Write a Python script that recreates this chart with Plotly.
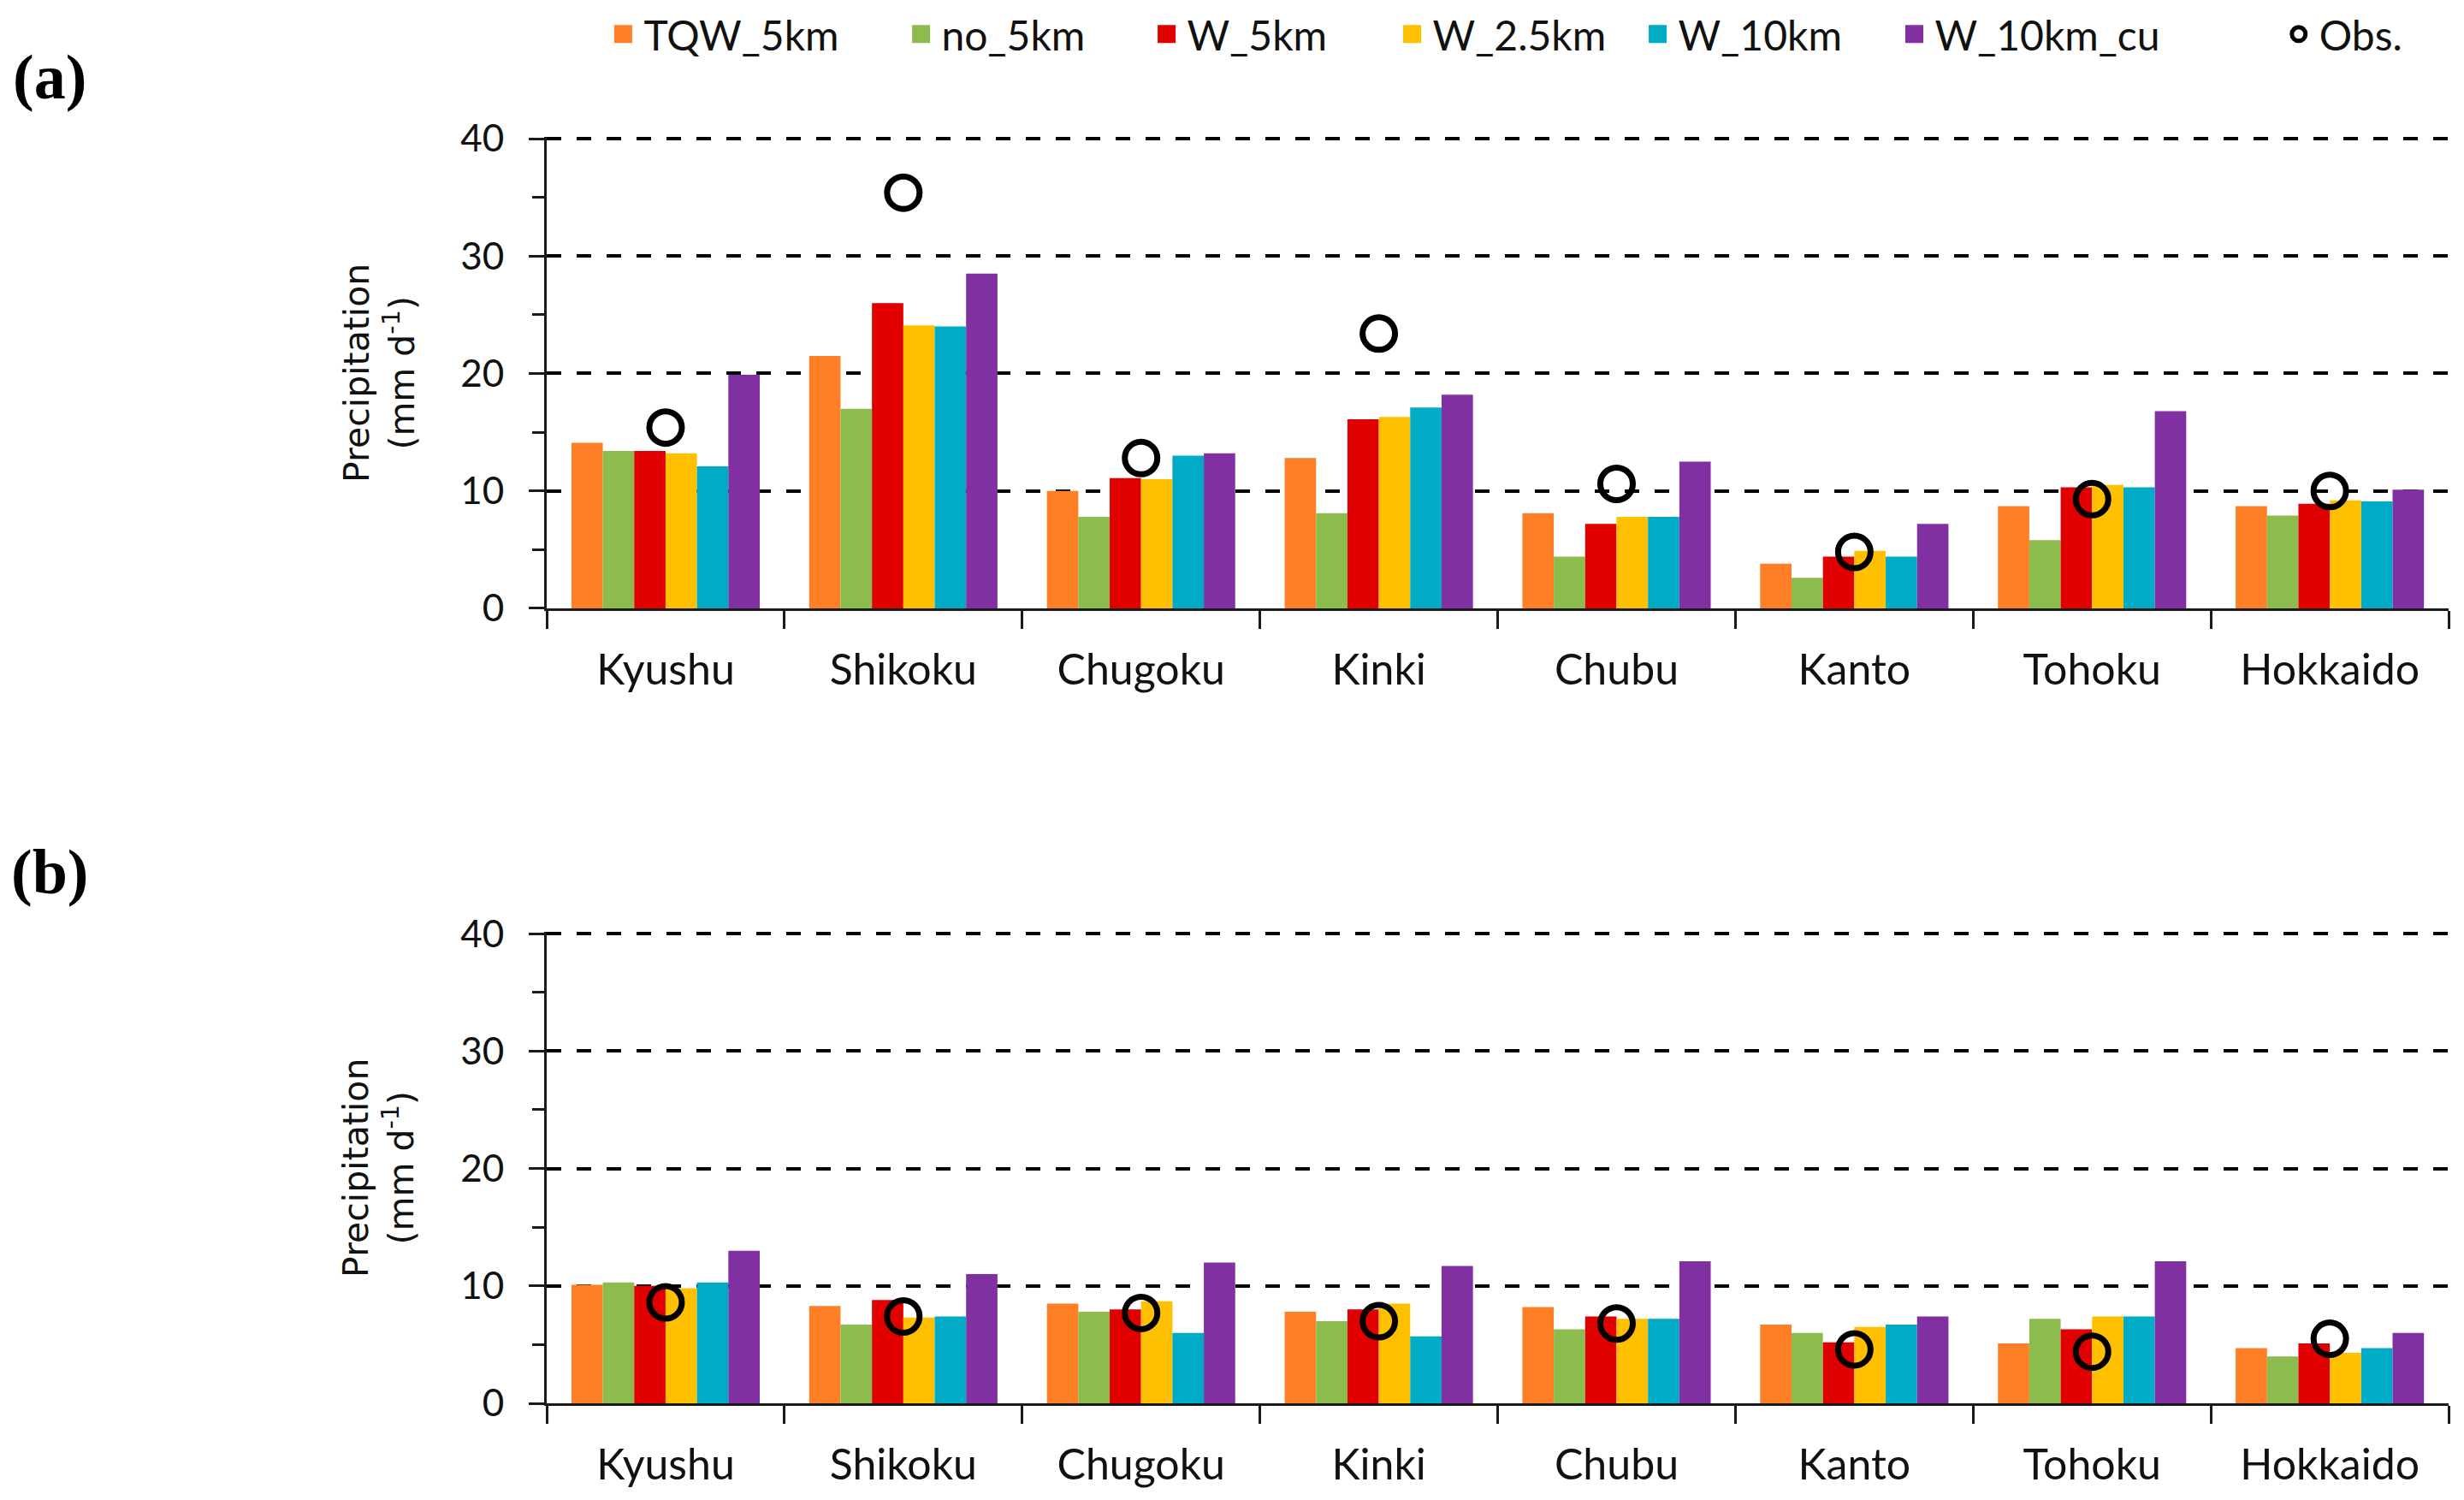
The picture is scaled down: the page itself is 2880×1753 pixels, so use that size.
import plotly.graph_objs as go

# Regions (categories)
regions = ['Kyushu', 'Shikoku', 'Chugoku', 'Kinki', 'Chubu', 'Kanto', 'Tohoku', 'Hokkaido']

# Experiment names and colours
runs = ['TQW_5km', 'no_5km', 'W_5km', 'W_2.5km', 'W_10km', 'W_10km_cu']
colors = ['#FF7F27', '#8CBB4E', '#E00000', '#FFC000', '#00ACC5', '#8030A0']

# Panel (a) precipitation (mm/d)
a_tqw_5km = [14.1, 21.5, 10.0, 12.8, 8.1, 3.8, 8.7, 8.7]
a_no_5km = [13.4, 17.0, 7.8, 8.1, 4.4, 2.6, 5.8, 7.9]
a_w_5km = [13.4, 26.0, 11.1, 16.1, 7.2, 4.4, 10.3, 8.9]
a_w_2_5km = [13.2, 24.1, 11.0, 16.3, 7.8, 4.9, 10.5, 9.2]
a_w_10km = [12.1, 24.0, 13.0, 17.1, 7.8, 4.4, 10.3, 9.1]
a_w_10km_cu = [19.9, 28.5, 13.2, 18.2, 12.5, 7.2, 16.8, 10.1]
a_obs = [15.4, 35.4, 12.8, 23.4, 10.6, 4.8, 9.3, 10.0]

# Panel (b) precipitation (mm/d)
b_tqw_5km = [10.1, 8.3, 8.5, 7.8, 8.2, 6.7, 5.1, 4.7]
b_no_5km = [10.3, 6.7, 7.8, 7.0, 6.3, 6.0, 7.2, 4.0]
b_w_5km = [10.0, 8.8, 8.0, 8.0, 7.4, 5.2, 6.3, 5.1]
b_w_2_5km = [9.8, 7.3, 8.7, 8.5, 7.2, 6.5, 7.4, 4.3]
b_w_10km = [10.3, 7.4, 6.0, 5.7, 7.2, 6.7, 7.4, 4.7]
b_w_10km_cu = [13.0, 11.0, 12.0, 11.7, 12.1, 7.4, 12.1, 6.0]
b_obs = [8.6, 7.4, 7.7, 7.0, 6.8, 4.6, 4.4, 5.5]

panel_a = [a_tqw_5km, a_no_5km, a_w_5km, a_w_2_5km, a_w_10km, a_w_10km_cu]
panel_b = [b_tqw_5km, b_no_5km, b_w_5km, b_w_2_5km, b_w_10km, b_w_10km_cu]

# which legend box each run goes in (spacing in the original is uneven)
legend_of = ['legend', 'legend3', 'legend3', 'legend3', 'legend3', 'legend4']

data = []

# Bars for both panels
for name, col, va, vb in zip(runs, colors, panel_a, panel_b):
    data.append(go.Bar(x=regions, y=va, name=name, marker_color=col, marker_line_width=0,
                       showlegend=False, xaxis='x', yaxis='y'))
    data.append(go.Bar(x=regions, y=vb, name=name, marker_color=col, marker_line_width=0,
                       showlegend=False, xaxis='x2', yaxis='y2'))

# Legend-only entries so the squares come out bigger than the default bar swatch
for name, col, leg in zip(runs, colors, legend_of):
    data.append(go.Scatter(x=[None], y=[None], mode='markers', name=name,
                           marker=dict(symbol='square', size=16, color=col,
                                       line=dict(width=5, color=col)),
                           xaxis='x', yaxis='y', legend=leg))

# Observations (own legend box so it sits at the far right like the original)
obs_marker = dict(symbol='circle-open', size=38, color='black', line=dict(width=7, color='black'))
data.append(go.Scatter(x=regions, y=a_obs, mode='markers', name='Obs.', marker=obs_marker,
                       xaxis='x', yaxis='y', legend='legend2'))
data.append(go.Scatter(x=regions, y=b_obs, mode='markers', name='Obs.', marker=obs_marker,
                       showlegend=False, xaxis='x2', yaxis='y2'))

# Shared axis styles
tick_font = dict(family='Lato', size=44, color='#111')
xstyle = dict(type='category', range=[-0.5, 7.5], domain=[0.2191, 0.9910], automargin=False,
              showline=True, linecolor='#1a1a1a', linewidth=3,
              ticks='outside', tickson='boundaries', ticklen=21, tickwidth=3, tickcolor='#1a1a1a',
              showgrid=False, ticklabelstandoff=26,
              tickfont=dict(family='Lato', size=50, color='#111'))
# top of range nudged a hair past 40 so the 40 gridline is not clipped away
ystyle = dict(range=[0, 40.15], dtick=10, tick0=0, automargin=False,
              showline=True, linecolor='#1a1a1a', linewidth=3,
              ticks='outside', ticklen=18, tickwidth=3, tickcolor='#1a1a1a',
              minor=dict(dtick=5, ticks='outside', ticklen=14, tickwidth=3, tickcolor='#1a1a1a', showgrid=False),
              showgrid=True, gridcolor='black', gridwidth=4, griddash='17px,18px',
              zeroline=False, ticklabelstandoff=20, tickfont=tick_font)

ytitle = 'Precipitation<br>(mm d<sup>-1</sup>)'
title_font = dict(family='DejaVu Sans', size=41, color='#111')
legend_font = dict(family='Lato', size=48, color='#111')
label_font = dict(family='Liberation Serif', size=74, color='black', weight='bold')
legend_style = dict(orientation='h', xanchor='left', y=0.9817, yanchor='middle',
                    font=legend_font, bgcolor='rgba(0,0,0,0)', itemwidth=38)

layout = go.Layout(
    width=2880, height=1753,
    margin=dict(l=0, r=0, t=0, b=0, autoexpand=False),
    paper_bgcolor='white', plot_bgcolor='white',
    barmode='group', bargap=0.208, bargroupgap=0,
    xaxis=dict(xstyle, anchor='y'),
    yaxis=dict(ystyle, domain=[0.5990, 0.9133], anchor='x'),
    xaxis2=dict(xstyle, anchor='y2'),
    yaxis2=dict(ystyle, domain=[0.0690, 0.3833], anchor='x2'),
    legend=dict(legend_style, x=0.2418),
    legend3=dict(legend_style, x=0.3627, entrywidth=234, entrywidthmode='pixels'),
    legend4=dict(legend_style, x=0.7658),
    legend2=dict(legend_style, x=0.9218),
    annotations=[
        dict(text=ytitle, x=0.1510, y=0.7558, xref='paper', yref='paper', textangle=-90,
             showarrow=False, font=title_font, xanchor='center', yanchor='middle'),
        dict(text=ytitle, x=0.1510, y=0.2259, xref='paper', yref='paper', textangle=-90,
             showarrow=False, font=title_font, xanchor='center', yanchor='middle'),
        dict(text='(a)', x=0.0174, y=0.9532, xref='paper', yref='paper', showarrow=False,
             font=label_font, xanchor='center', yanchor='middle'),
        dict(text='(b)', x=0.0174, y=0.4233, xref='paper', yref='paper', showarrow=False,
             font=label_font, xanchor='center', yanchor='middle'),
    ],
)

fig = go.Figure(data=data, layout=layout)
fig.write_html('out.html')
